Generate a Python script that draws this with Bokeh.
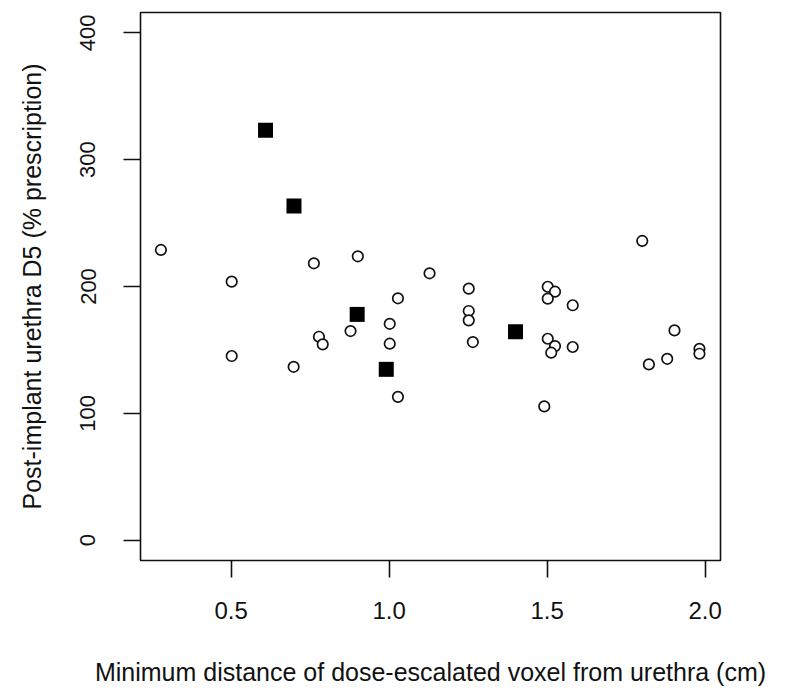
from bokeh.plotting import figure
from bokeh.models import Range1d, FixedTicker
from bokeh.embed import file_html
from bokeh.resources import INLINE

# Open circles: minimum distance (cm) vs post-implant urethra D5 (% prescription)
dist_circle = [0.278, 0.502, 0.502, 0.762, 0.901, 1.128, 1.028, 0.878, 1.002, 1.002,
               0.778, 0.790, 0.698, 1.028, 1.801, 1.252, 1.252, 1.252, 1.265, 1.502,
               1.525, 1.502, 1.581, 1.502, 1.525, 1.513, 1.581, 1.491, 1.903, 1.880,
               1.822, 1.982, 1.982]
d5_circle = [228.8, 203.8, 145.2, 218.3, 223.8, 210.4, 190.7, 164.9, 170.6, 154.9,
             160.4, 154.4, 136.7, 113.0, 235.9, 198.3, 180.7, 173.3, 156.2, 199.8,
             195.9, 190.4, 185.2, 158.8, 153.0, 147.8, 152.3, 105.5, 165.4, 143.0,
             138.6, 150.9, 147.0]

# Filled squares
dist_square = [0.609, 0.699, 0.899, 0.991, 1.400]
d5_square = [323.2, 263.5, 178.0, 134.7, 164.3]

x_ticks = [0.5, 1.0, 1.5, 2.0]
y_ticks = [0, 100, 200, 300, 400]

FONT = "Liberation Sans"

p = figure(width=777, height=680, output_backend="svg", toolbar_location=None,
           frame_width=580, frame_height=548,
           x_range=Range1d(0.2134, 2.0486), y_range=Range1d(-16, 416),
           min_border_left=140, min_border_top=12, min_border_right=57,
           min_border_bottom=120,
           x_axis_label="Minimum distance of dose-escalated voxel from urethra (cm)",
           y_axis_label="Post-implant urethra D5 (% prescription)")

p.background_fill_color = "white"
p.border_fill_color = "white"
p.grid.visible = False
p.outline_line_color = "#111111"
p.outline_line_width = 1.6

p.scatter(dist_circle, d5_circle, marker="circle", size=10.5, fill_color="white",
          line_color="#111111", line_width=1.7)
p.scatter(dist_square, d5_square, marker="square", size=15, fill_color="#000000",
          line_color="#000000", line_width=0)

for ax in (p.xaxis[0], p.yaxis[0]):
    ax.axis_line_color = None
    ax.major_tick_out = 17
    ax.major_tick_in = 0
    ax.major_tick_line_color = "#111111"
    ax.major_tick_line_width = 1.6
    ax.minor_tick_line_color = None
    ax.major_label_text_font = FONT
    ax.axis_label_text_font = FONT
    ax.axis_label_text_font_style = "normal"
    ax.major_label_text_color = "#111111"
    ax.axis_label_text_color = "#111111"

p.xaxis[0].ticker = FixedTicker(ticks=x_ticks)
p.yaxis[0].ticker = FixedTicker(ticks=y_ticks)
p.xaxis[0].major_label_overrides = {0.5: "0.5", 1.0: "1.0", 1.5: "1.5", 2.0: "2.0"}

p.xaxis[0].major_label_text_font_size = "24px"
p.yaxis[0].major_label_text_font_size = "22px"
p.yaxis[0].major_label_orientation = "vertical"
p.xaxis[0].major_label_standoff = 24
p.yaxis[0].major_label_standoff = 28

p.xaxis[0].axis_label_text_font_size = "25px"
p.yaxis[0].axis_label_text_font_size = "25px"
p.xaxis[0].axis_label_standoff = 36
p.yaxis[0].axis_label_standoff = 32

open("out.html", "w").write(file_html(p, INLINE))
